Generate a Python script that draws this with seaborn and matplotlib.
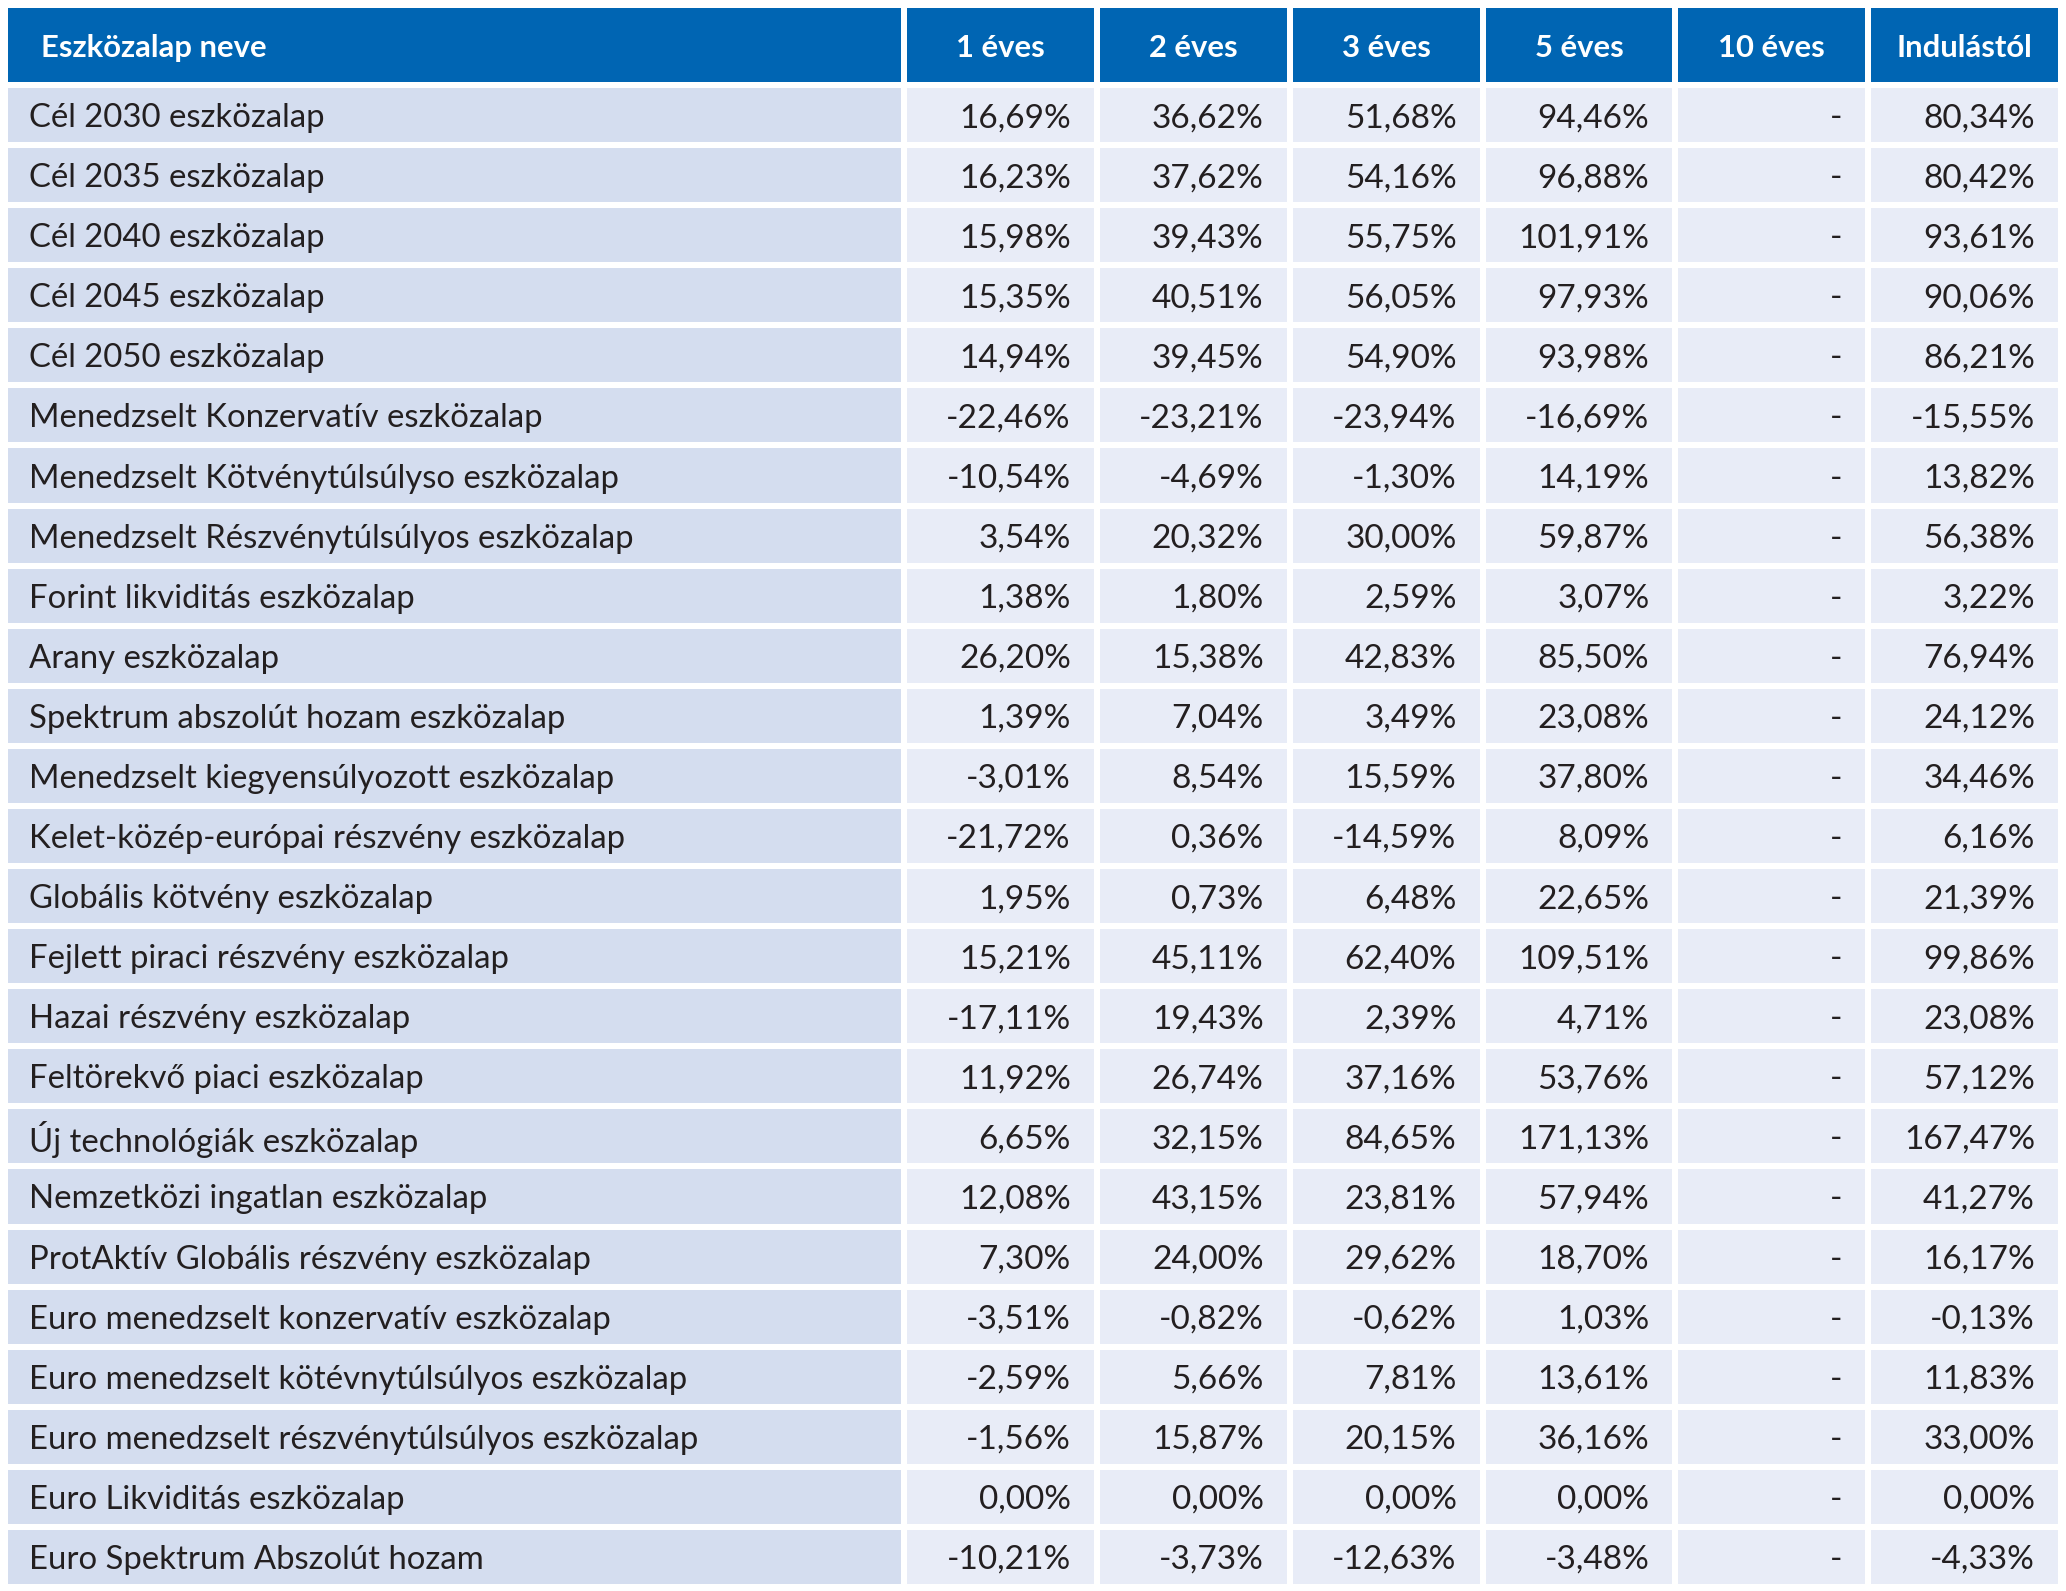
import numpy as np
import pandas as pd
import matplotlib
matplotlib.use('Agg')
import matplotlib.pyplot as plt
from matplotlib.colors import ListedColormap
import seaborn as sns

# ========== Adatok ==========

alapok = [
    'Cél 2030 eszközalap', 'Cél 2035 eszközalap', 'Cél 2040 eszközalap',
    'Cél 2045 eszközalap', 'Cél 2050 eszközalap',
    'Menedzselt Konzervatív eszközalap', 'Menedzselt Kötvénytúlsúlyso eszközalap',
    'Menedzselt Részvénytúlsúlyos eszközalap', 'Forint likviditás eszközalap',
    'Arany eszközalap', 'Spektrum abszolút hozam eszközalap',
    'Menedzselt kiegyensúlyozott eszközalap', 'Kelet-közép-európai részvény eszközalap',
    'Globális kötvény eszközalap', 'Fejlett piraci részvény eszközalap',
    'Hazai részvény eszközalap', 'Feltörekvő piaci eszközalap',
    'Új technológiák eszközalap', 'Nemzetközi ingatlan eszközalap',
    'ProtAktív Globális részvény eszközalap', 'Euro menedzselt konzervatív eszközalap',
    'Euro menedzselt kötévnytúlsúlyos eszközalap', 'Euro menedzselt részvénytúlsúlyos eszközalap',
    'Euro Likviditás eszközalap', 'Euro Spektrum Abszolút hozam',
]

fejlec_nev = 'Eszközalap neve'
fejlec = ['1 éves', '2 éves', '3 éves', '5 éves', '10 éves', 'Indulástól']

ev1 = [16.69, 16.23, 15.98, 15.35, 14.94, -22.46, -10.54, 3.54, 1.38, 26.20, 1.39, -3.01, -21.72,
       1.95, 15.21, -17.11, 11.92, 6.65, 12.08, 7.30, -3.51, -2.59, -1.56, 0.00, -10.21]
ev2 = [36.62, 37.62, 39.43, 40.51, 39.45, -23.21, -4.69, 20.32, 1.80, 15.38, 7.04, 8.54, 0.36,
       0.73, 45.11, 19.43, 26.74, 32.15, 43.15, 24.00, -0.82, 5.66, 15.87, 0.00, -3.73]
ev3 = [51.68, 54.16, 55.75, 56.05, 54.90, -23.94, -1.30, 30.00, 2.59, 42.83, 3.49, 15.59, -14.59,
       6.48, 62.40, 2.39, 37.16, 84.65, 23.81, 29.62, -0.62, 7.81, 20.15, 0.00, -12.63]
ev5 = [94.46, 96.88, 101.91, 97.93, 93.98, -16.69, 14.19, 59.87, 3.07, 85.50, 23.08, 37.80, 8.09,
       22.65, 109.51, 4.71, 53.76, 171.13, 57.94, 18.70, 1.03, 13.61, 36.16, 0.00, -3.48]
ev10 = [None, None, None, None, None, None, None, None, None, None, None, None, None,
        None, None, None, None, None, None, None, None, None, None, None, None]
indulastol = [80.34, 80.42, 93.61, 90.06, 86.21, -15.55, 13.82, 56.38, 3.22, 76.94, 24.12, 34.46, 6.16,
              21.39, 99.86, 23.08, 57.12, 167.47, 41.27, 16.17, -0.13, 11.83, 33.00, 0.00, -4.33]

# ========== Stílus ==========

KEK = '#0065B3'
NEV_HATTER = '#D4DDEF'
ERTEK_HATTER = '#E8ECF7'
SZOVEG = '#231F20'
BETU = 'Lato'

W, H = 2066, 1591
X0, X1, X2 = 5, 904, 2061
Y0, Y1, Y2 = 5, 85, 1587


def formaz(v):
    if v is None or pd.isna(v):
        return '-'
    return f"{v:.2f}".replace('.', ',') + '%'


def tengely(fig, x_bal, x_jobb, y_fent, y_lent):
    return fig.add_axes([x_bal / W, 1 - y_lent / H, (x_jobb - x_bal) / W, (y_lent - y_fent) / H])


def cellak(ax, sorok, oszlopok, szin):
    sns.heatmap(np.zeros((sorok, oszlopok)), cmap=ListedColormap([szin]), cbar=False,
                linewidths=3, linecolor='white', xticklabels=False, yticklabels=False, ax=ax)


def main():
    sns.set_theme(style='white')
    plt.rcParams['font.family'] = [BETU, 'DejaVu Sans']

    df = pd.DataFrame({fejlec[0]: ev1, fejlec[1]: ev2, fejlec[2]: ev3,
                       fejlec[3]: ev5, fejlec[4]: ev10, fejlec[5]: indulastol}, index=alapok)

    fig = plt.figure(figsize=(W / 100, H / 100), dpi=100)

    # fejléc
    ax_fn = tengely(fig, X0, X1, Y0, Y1)
    cellak(ax_fn, 1, 1, KEK)
    ax_fn.annotate(fejlec_nev, xy=(0, 0.5), xytext=(36, -3), textcoords='offset pixels',
                   ha='left', va='center', color='white', fontsize=22.3, fontweight='bold')

    ax_fe = tengely(fig, X1, X2, Y0, Y1)
    cellak(ax_fe, 1, len(fejlec), KEK)
    for j, cim in enumerate(df.columns):
        ax_fe.annotate(cim, xy=(j + 0.5, 0.5), xytext=(0, -3), textcoords='offset pixels',
                       ha='center', va='center', color='white', fontsize=22.3, fontweight='bold')

    # törzs
    ax_n = tengely(fig, X0, X1, Y1, Y2)
    cellak(ax_n, len(df), 1, NEV_HATTER)
    for i, nev in enumerate(df.index):
        ax_n.annotate(nev, xy=(0, i + 0.5), xytext=(24, -3), textcoords='offset pixels',
                      ha='left', va='center', color=SZOVEG, fontsize=23.7)

    ax_e = tengely(fig, X1, X2, Y1, Y2)
    cellak(ax_e, len(df), len(df.columns), ERTEK_HATTER)
    for i in range(len(df)):
        for j, oszlop in enumerate(df.columns):
            ax_e.annotate(formaz(df.iloc[i, j]), xy=(j + 1, i + 0.5), xytext=(-26, -3),
                          textcoords='offset pixels', ha='right', va='center',
                          color=SZOVEG, fontsize=24)

    for ax in (ax_fn, ax_fe, ax_n, ax_e):
        ax.set_axis_off()

    fig.savefig('out.png', dpi=100, facecolor='white')
    plt.close(fig)


if __name__ == "__main__":
    main()
